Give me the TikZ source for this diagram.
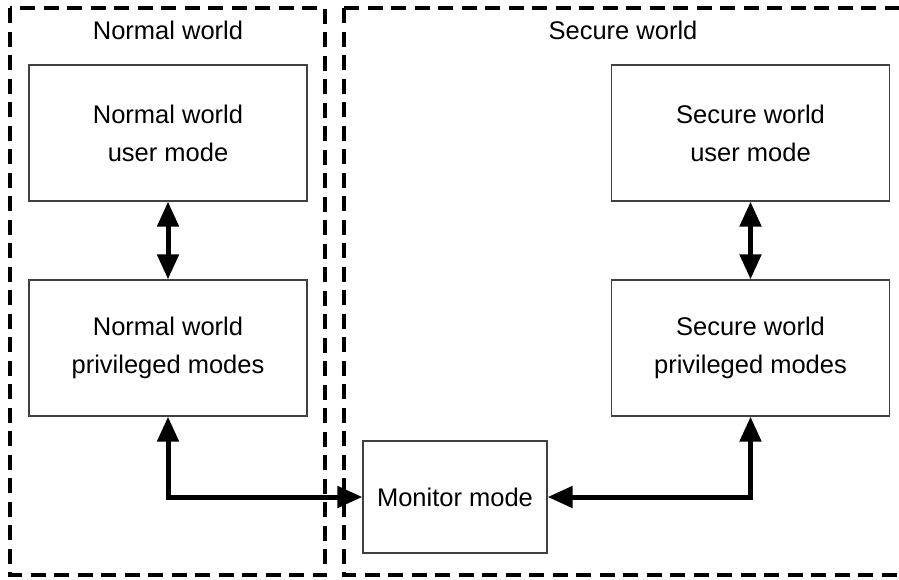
\documentclass[tikz,border=0pt]{standalone}
\usepackage{fontspec}
\setmainfont{Liberation Sans}
\usetikzlibrary{arrows.meta}
\begin{document}
\begin{tikzpicture}[x=1pt,y=-1pt,
  world/.style={draw=black,line width=4pt,dash pattern=on 15pt off 8.5pt},
  modebox/.style={draw=black!75,line width=1.3pt,fill=white,minimum width=278pt,minimum height=136pt,inner sep=0pt,align=center,font=\fontsize{25.5}{38}\selectfont},
  label/.style={font=\fontsize{25.5}{30}\selectfont,inner sep=0pt},
  link/.style={line width=5pt,{Triangle[length=25pt,width=21pt]}-{Triangle[length=25pt,width=21pt]}}
]
\useasboundingbox (0,0) rectangle (899,579);
\fill[white] (0,0) rectangle (899,579);
\draw[world] (10,8) rectangle (325,575);
\draw[world] (344,8) -- (905,8);
\draw[world] (344,8) -- (344,575) -- (905,575);
\node[label] (nwt) at (168,30) {Normal world};
\node[label] (swt) at (623,30) {Secure world};
\node[modebox] (nu) at (168,133) {Normal world\\user mode};
\node[modebox] (np) at (168,348) {Normal world\\privileged modes};
\node[modebox] (su) at (750.5,133) {Secure world\\user mode};
\node[modebox] (sp) at (750.5,348) {Secure world\\privileged modes};
\node[modebox,minimum width=184pt,minimum height=112pt] (mm) at (455,497) {Monitor mode};
\draw[link] (nu.south) -- (np.north);
\draw[link] (su.south) -- (sp.north);
\draw[link,line join=miter] (np.south) |- (mm.west);
\draw[link,line join=miter] (mm.east) -| (sp.south);
\end{tikzpicture}
\end{document}
